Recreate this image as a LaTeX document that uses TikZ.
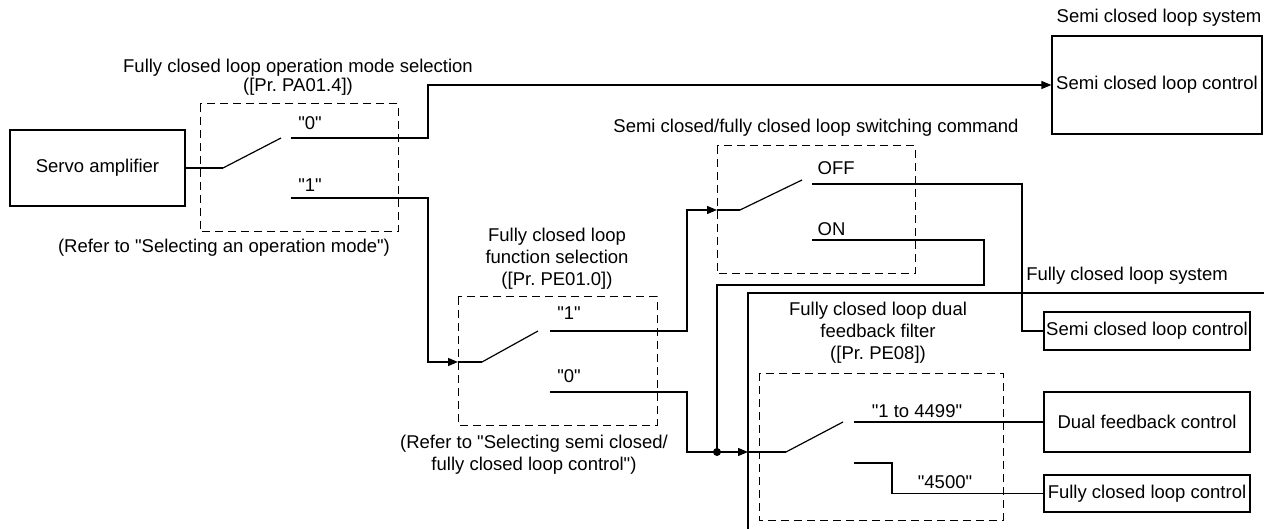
\documentclass[tikz,border=0pt]{standalone}
\usepackage{fontspec}
\setmainfont{Liberation Sans}[Ligatures=TeXOff]
\usetikzlibrary{arrows.meta}

\begin{document}
\begin{tikzpicture}[x=0.5pt,y=-0.5pt,line width=0.6pt,
    font=\fontsize{9.25}{11}\selectfont,
    box/.style 2 args={draw,inner sep=0pt,minimum width=#1,minimum height=#2},
    sel/.style={draw,line width=0.5pt,dash pattern=on 4pt off 2.5pt},
    txt/.style={inner sep=0pt,align=center},
    arr/.style={-{Triangle[length=5pt,width=4pt]}}]
  \useasboundingbox (0,0) rectangle (1264,529);
  \def\blade(#1)(#2){\draw (#1) -- ++(#2);}

  % blocks
  \node[box={87.5pt}{38pt}] (amp) at (97.5,168) {Servo amplifier};
  \node[box={105pt}{49pt}] (semiA) at (1157,85) {Semi closed loop control};
  \node[box={103pt}{19pt}] (semiB) at (1147,331) {Semi closed loop control};
  \node[box={103pt}{30pt}] (dual) at (1147,422) {Dual feedback control};
  \node[box={103pt}{18.5pt}] (fullC) at (1147,493.5) {Fully closed loop control};
  \draw (1264,293) -- (748,293) -- (748,529);

  % parameter selectors
  \draw[sel] (200,104) rectangle (398,232);
  \draw[sel] (458,297) rectangle (657,425);
  \draw[sel] (717,146) rectangle (915,274);
  \draw[sel] (759,373) rectangle (1003,520);

  % switch points
  \coordinate (s1) at (223,168);
  \coordinate (c10) at (291,138);
  \coordinate (c11) at (291,198);
  \coordinate (s2in) at (458,362);
  \coordinate (s2) at (482,362);
  \coordinate (c21) at (550,331);
  \coordinate (c20) at (550,392);
  \coordinate (s3in) at (717,210);
  \coordinate (s3) at (740,210);
  \coordinate (c3off) at (812,184);
  \coordinate (c3on) at (812,240);
  \coordinate (jn) at (717,452);
  \coordinate (s4in) at (748,452);
  \coordinate (s4) at (786,452);
  \coordinate (c41) at (854,422);
  \coordinate (c42) at (854,463);

  \draw (amp.east) -- (s1);
  \blade(s1)(58,-30)
  \draw[arr] (c10) -- (428,138) |- (semiA.west);
  \draw[arr] (c11) -- (428,198) |- (s2in);
  \draw (s2in) -- (s2);
  \blade(s2)(56,-31)
  \draw[arr] (c21) -- (687,331) |- (s3in);
  \draw (c20) -- (687,392) |- (jn);
  \draw (s3in) -- (s3);
  \blade(s3)(62,-30)
  \draw (c3off) -- (1022,184) |- (semiB.west);
  \draw (c3on) -- (984,240) -- (984,285) -| (jn);
  \draw[arr] (jn) -- (s4in);
  \fill (jn) circle (2pt);
  \draw (s4in) -- (s4);
  \blade(s4)(57,-30)
  \draw (c41) -- (dual.west);
  \draw (c42) -- (892,463) |- (fullC.west);

  % labels
  \node[txt] (t1) at (298,68) {Fully closed loop operation mode selection};
  \node[txt] (t1p) at (298,87) {([Pr.\ PA01.4])};
  \node[txt] (l10) at (310,123) {"0"};
  \node[txt] (l11) at (310,185) {"1"};
  \node[txt] (r1) at (224,248) {(Refer to "Selecting an operation mode")};
  \node[txt] (t2) at (557,259) {Fully closed loop\\function selection\\([Pr.\ PE01.0])};
  \node[txt] (l21) at (569,313) {"1"};
  \node[txt] (l20) at (569,376) {"0"};
  \node[txt] (r2) at (534,455) {(Refer to "Selecting semi closed/\\fully closed loop control")};
  \node[txt] (t3) at (816,128) {Semi closed/fully closed loop switching command};
  \node[txt,anchor=west] (loff) at (817,168) {OFF};
  \node[txt,anchor=west] (lon) at (817,229) {ON};
  \node[txt] (tsemi) at (1159,18) {Semi closed loop system};
  \node[txt] (tfull) at (1127,276) {Fully closed loop system};
  \node[txt] (t4) at (878,333) {Fully closed loop dual\\feedback filter\\([Pr.\ PE08])};
  \node[txt] (l41) at (917,411) {"1 to 4499"};
  \node[txt] (l42) at (945,482) {"4500"};
\end{tikzpicture}
\end{document}
